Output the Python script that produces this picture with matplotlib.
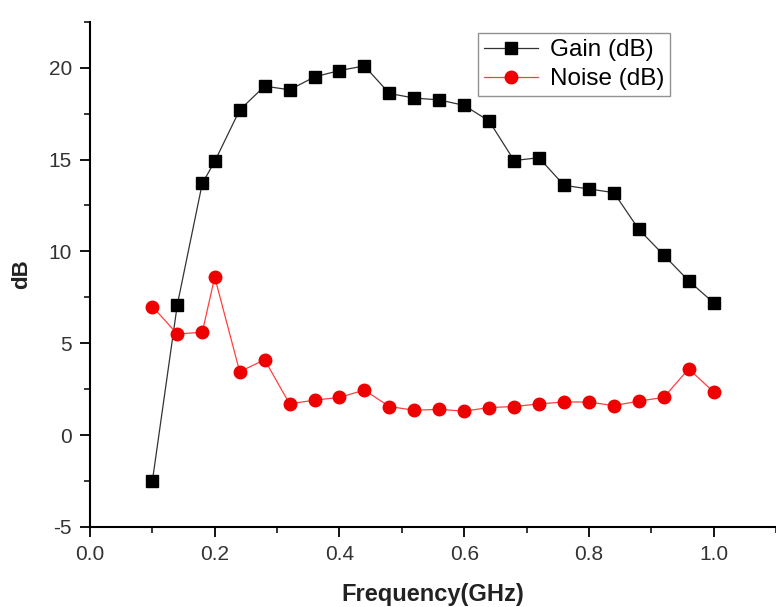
import numpy as np
import matplotlib.pyplot as plt
from matplotlib.ticker import MultipleLocator

#%% Daten

freq = [0.10, 0.14, 0.18, 0.20, 0.24, 0.28, 0.32, 0.36, 0.40, 0.44, 0.48, 0.52,
        0.56, 0.60, 0.64, 0.68, 0.72, 0.76, 0.80, 0.84, 0.88, 0.92, 0.96, 1.00]

gain = [-2.5, 7.1, 13.7, 14.9, 17.7, 19.0, 18.8, 19.5, 19.85, 20.1, 18.6, 18.35,
        18.25, 17.95, 17.1, 14.95, 15.1, 13.6, 13.4, 13.2, 11.2, 9.8, 8.4, 7.2]

noise = [7.0, 5.5, 5.6, 8.6, 3.45, 4.1, 1.7, 1.9, 2.05, 2.45, 1.55, 1.35,
         1.4, 1.3, 1.5, 1.55, 1.7, 1.8, 1.8, 1.6, 1.85, 2.05, 3.6, 2.35]

#%% Plot

plt.rcParams['font.family'] = ['Liberation Sans', 'DejaVu Sans']
plt.rcParams['axes.unicode_minus'] = False

fig = plt.figure(figsize=(7.76, 6.07), dpi=100)
ax = fig.add_axes([0.116, 0.132, 0.884, 0.832])

ax.plot(freq, gain, color='#333333', linewidth=0.9, marker='s', markersize=8,
        markerfacecolor='black', markeredgecolor='black', label='Gain (dB)')
ax.plot(freq, noise, color='#ff4040', linewidth=0.9, marker='o', markersize=9,
        markerfacecolor='#ee0000', markeredgecolor='#ee0000', label='Noise (dB)')

ax.set_xlim(0, 1.1)
ax.set_ylim(-5, 22.5)
ax.xaxis.set_major_locator(MultipleLocator(0.2))
ax.xaxis.set_minor_locator(MultipleLocator(0.1))
ax.yaxis.set_major_locator(MultipleLocator(5))
ax.yaxis.set_minor_locator(MultipleLocator(2.5))
ax.xaxis.set_major_formatter(plt.FormatStrFormatter('%.1f'))

ax.spines['top'].set_visible(False)
ax.spines['right'].set_visible(False)
ax.spines['left'].set_linewidth(1.5)
ax.spines['bottom'].set_linewidth(1.5)
ax.tick_params(which='major', direction='out', length=7, width=1.3,
               labelsize=15, labelcolor='#333333')
ax.tick_params(axis='x', which='major', pad=6)
ax.tick_params(axis='y', which='major', pad=6)
ax.tick_params(which='minor', direction='out', length=4, width=1.1)

ax.set_xlabel('Frequency(GHz)', fontsize=17, fontweight='bold', color='#222222', labelpad=14)
ax.set_ylabel('dB', fontsize=16, fontweight='bold', color='#222222', labelpad=12)

leg = ax.legend(loc='upper left', bbox_to_anchor=(0.548, 1.002), fontsize=17.5,
                frameon=True, fancybox=False, edgecolor='#777777',
                handlelength=2.2, borderpad=0.25, labelspacing=0.3, handletextpad=0.5)
leg.get_frame().set_linewidth(1.0)

plt.savefig('out.png', dpi=100)
